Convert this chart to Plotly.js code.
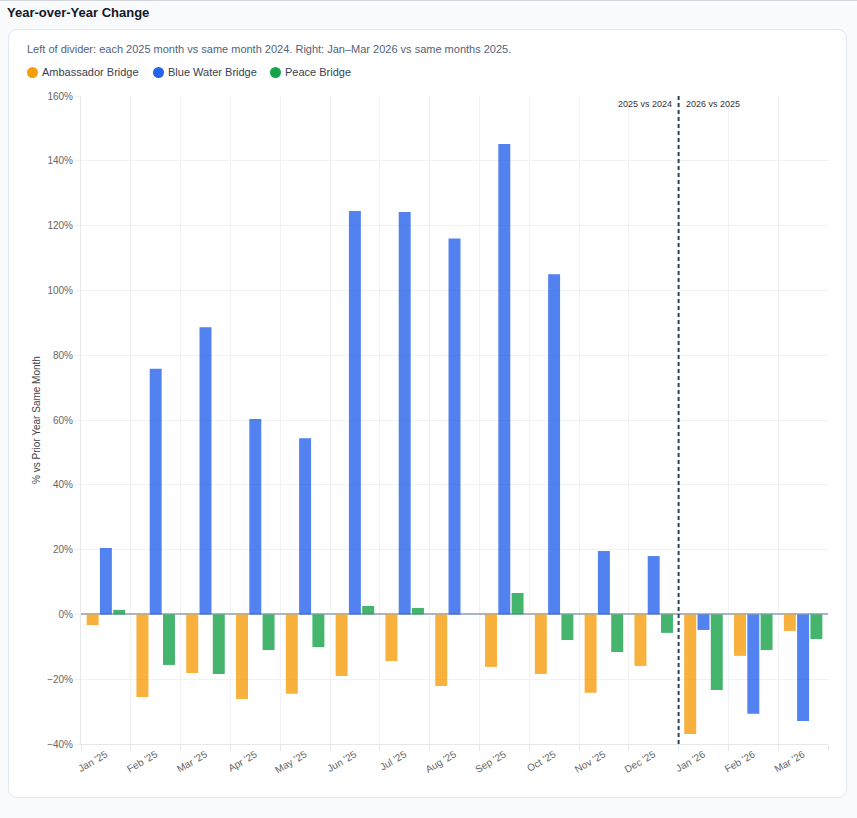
<!DOCTYPE html>
<html>
<head>
<meta charset="utf-8">
<script src="https://cdn.plot.ly/plotly-3.0.1.min.js"></script>
<style>
  html, body { margin: 0; padding: 0; }
  body { width: 857px; height: 818px; background: #f8fafc; position: relative; overflow: hidden; font-family: "Liberation Sans", Arial, sans-serif; }
  #topline { position: absolute; left: 0; top: 0; width: 857px; height: 1px; background: #d4d8de; }
  #heading { position: absolute; left: 7px; top: 5px; font-size: 13px; font-weight: 700; color: #111827; }
  #card { position: absolute; left: 8px; top: 29px; width: 839px; height: 769px; background: #fff; border: 1px solid #e2e8f0; border-radius: 9px; box-sizing: border-box; }
  #sub { position: absolute; left: 27px; top: 43px; font-size: 11px; color: #52627a; white-space: nowrap; }
  #legend { position: absolute; left: 27px; top: 65px; font-size: 11px; color: #374151; white-space: nowrap; }
  .li { position: absolute; top: 0; line-height: 14px; }
  .dot { display: inline-block; width: 11px; height: 11px; border-radius: 50%; vertical-align: -2px; margin-right: 4px; }
  #chart { position: absolute; left: 0; top: 0; width: 857px; height: 818px; }
</style>
</head>
<body>
<div id="topline"></div>
<div id="heading">Year-over-Year Change</div>
<div id="card"></div>
<div id="sub">Left of divider: each 2025 month vs same month 2024. Right: Jan–Mar 2026 vs same months 2025.</div>
<div id="legend"></div>
<div id="chart"></div>
<script>
const months = ["Jan '25","Feb '25","Mar '25","Apr '25","May '25","Jun '25","Jul '25","Aug '25","Sep '25","Oct '25","Nov '25","Dec '25","Jan '26","Feb '26","Mar '26"];
const ambassador = [-3.3, -25.5, -18.1, -26.1, -24.5, -19.0, -14.4, -22.1, -16.2, -18.4, -24.2, -15.9, -36.9, -12.8, -5.1];
const blueWater  = [20.5, 75.8, 88.6, 60.3, 54.4, 124.5, 124.2, 116.0, 145.2, 105.0, 19.6, 18.0, -4.8, -30.7, -32.9];
const peace      = [1.4, -15.6, -18.4, -11.0, -10.1, 2.6, 2.0, null, 6.6, -7.9, -11.6, -5.7, -23.3, -11.0, -7.6];
const seriesNames = ["Ambassador Bridge", "Blue Water Bridge", "Peace Bridge"];
const seriesColors = ["#F59E0B", "#2563EB", "#16A34A"];
const fills = ["rgba(245,158,11,0.8)", "rgba(37,99,235,0.8)", "rgba(22,163,74,0.8)"];
const dividerLabels = ["2025 vs 2024", "2026 vs 2025"];

// HTML legend
const legendDiv = document.getElementById('legend');
const legendX = [0, 126, 243];
seriesNames.forEach((n, i) => {
  const s = document.createElement('span');
  s.className = 'li';
  s.style.left = legendX[i] + 'px';
  s.innerHTML = '<span class="dot" style="background:' + seriesColors[i] + '"></span>' + n;
  legendDiv.appendChild(s);
});

const dataSets = [ambassador, blueWater, peace];
const traces = dataSets.map((vals, i) => ({
  type: 'bar',
  name: seriesNames[i],
  x: months,
  y: vals,
  marker: { color: fills[i], line: { color: fills[i], width: 0 } },
  showlegend: false,
  hovertemplate: '%{x}: %{y:.1f}%<extra>' + seriesNames[i] + '</extra>'
}));

const tickFont = { family: 'Liberation Sans, Arial, sans-serif', size: 10, color: '#666666' };
const layout = {
  width: 857, height: 818,
  margin: { l: 81, r: 29, t: 96, b: 74 },
  paper_bgcolor: 'rgba(0,0,0,0)',
  plot_bgcolor: 'rgba(0,0,0,0)',
  barmode: 'group',
  bargap: 0.2,
  bargroupgap: 0.1,
  showlegend: false,
  xaxis: {
    type: 'category',
    tickson: 'boundaries',
    ticks: 'outside', ticklen: 6, tickcolor: '#e5e7eb',
    showgrid: true, gridcolor: '#f0f2f5', gridwidth: 1,
    showline: true, linecolor: '#e5e7eb', linewidth: 1,
    tickangle: -30,
    tickfont: tickFont,
    range: [-0.5, 14.5],
    fixedrange: true
  },
  yaxis: {
    range: [-40, 160],
    dtick: 20,
    ticksuffix: '%',
    ticks: 'outside', ticklen: 5, tickcolor: '#eceff3',
    showgrid: true, gridcolor: '#f0f2f5', gridwidth: 1,
    showline: true, linecolor: '#e5e7eb', linewidth: 1,
    zeroline: true, zerolinecolor: '#a9b5c7', zerolinewidth: 1.5,
    tickfont: tickFont,
    title: { text: '% vs Prior Year Same Month', font: { family: 'Liberation Sans, Arial, sans-serif', size: 10, color: '#444444' }, standoff: 4 },
    fixedrange: true
  },
  shapes: [{
    type: 'line', xref: 'x', yref: 'paper',
    x0: 11.5, x1: 11.5, y0: 0, y1: 1,
    line: { color: '#334155', width: 2, dash: '4px,3px' }
  }],
  annotations: [
    { xref: 'x', yref: 'paper', x: 11.5, y: 1, xanchor: 'right', yanchor: 'top', xshift: -5, yshift: -1, text: dividerLabels[0], showarrow: false, font: { family: 'Liberation Sans, Arial, sans-serif', size: 9, color: '#333333' } },
    { xref: 'x', yref: 'paper', x: 11.5, y: 1, xanchor: 'left', yanchor: 'top', xshift: 5, yshift: -1, text: dividerLabels[1], showarrow: false, font: { family: 'Liberation Sans, Arial, sans-serif', size: 9, color: '#333333' } }
  ]
};

Plotly.newPlot('chart', traces, layout, { displayModeBar: false, staticPlot: false });
</script>
</body>
</html>
